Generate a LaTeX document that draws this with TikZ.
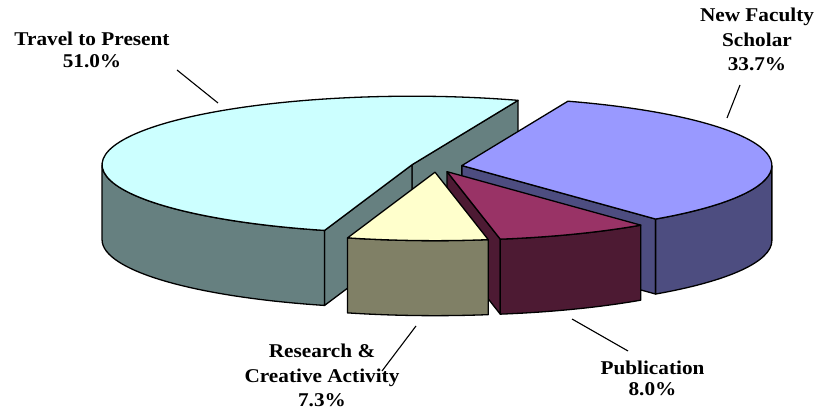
\documentclass[tikz,border=0pt]{standalone}
\usepackage{fontspec}
\newfontfamily\lblfont[FakeStretch=1.09]{Liberation Serif}
\definecolor{trtop}{RGB}{204,255,255}
\definecolor{trside}{RGB}{102,128,128}
\definecolor{nftop}{RGB}{153,153,255}
\definecolor{nfside}{RGB}{77,77,128}
\definecolor{pubtop}{RGB}{153,51,102}
\definecolor{pubside}{RGB}{77,26,51}
\definecolor{restop}{RGB}{255,255,204}
\definecolor{resside}{RGB}{128,128,102}
\begin{document}
\begin{tikzpicture}[x=1pt,y=1pt,line join=round,
  edge/.style={draw=black,line width=1.3pt},
  lbl/.style={font=\lblfont\bfseries\fontsize{19.5}{23}\selectfont,inner sep=0pt,anchor=base,text=black},
  leader/.style={draw=black,line width=1.1pt}]
\useasboundingbox[fill=white] (0,0) rectangle (817,411);
\def\R{310 and 68.5}
\def\ex{0.083}
% Travel to Present (70 -> 253.6)
\begin{scope}[shift={({436.5+\ex*310*cos(161.8)},{244.5+\ex*68.5*sin(161.8)})}]
  \path[edge,fill=trside] (0,0) -- (70:\R) -- ++(0,-75) -- (0,-75) -- cycle;
  \path[edge,fill=trside] (0,0) -- (253.6:\R) -- ++(0,-75) -- (0,-75) -- cycle;
  \path[edge,fill=trside] (180:\R) arc[start angle=180,end angle=253.6,x radius=310,y radius=68.5]
     -- ++(0,-75) arc[start angle=253.6,end angle=180,x radius=310,y radius=68.5] -- cycle;
  \path[edge,fill=trtop] (0,0) -- (70:\R) arc[start angle=70,end angle=253.6,x radius=310,y radius=68.5] -- cycle;
\end{scope}
% New Faculty Scholar (-51.32 -> 70)
\begin{scope}[shift={({436.5+\ex*310*cos(9.34)},{244.5+\ex*68.5*sin(9.34)})}]
  \path[edge,fill=nfside] (0,0) -- (-51.32:\R) -- ++(0,-75) -- (0,-75) -- cycle;
  \path[edge,fill=nfside] (-51.32:\R) arc[start angle=-51.32,end angle=0,x radius=310,y radius=68.5]
     -- ++(0,-75) arc[start angle=0,end angle=-51.32,x radius=310,y radius=68.5] -- cycle;
  \path[edge,fill=nftop] (0,0) -- (-51.32:\R) arc[start angle=-51.32,end angle=70,x radius=310,y radius=68.5] -- cycle;
\end{scope}
% Publication (-80.12 -> -51.32)
\begin{scope}[shift={({436.5+\ex*310*cos(-65.72)},{244.5+\ex*68.5*sin(-65.72)})}]
  \path[edge,fill=pubside] (0,0) -- (-80.12:\R) -- ++(0,-75) -- (0,-75) -- cycle;
  \path[edge,fill=pubside] (-80.12:\R) arc[start angle=-80.12,end angle=-51.32,x radius=310,y radius=68.5]
     -- ++(0,-75) arc[start angle=-51.32,end angle=-80.12,x radius=310,y radius=68.5] -- cycle;
  \path[edge,fill=pubtop] (0,0) -- (-80.12:\R) arc[start angle=-80.12,end angle=-51.32,x radius=310,y radius=68.5] -- cycle;
\end{scope}
% Research & Creative Activity (-106.4 -> -80.12)
\begin{scope}[shift={({436.5+\ex*310*cos(-93.26)},{244.5+\ex*68.5*sin(-93.26)})}]
  \path[edge,fill=resside] (-106.4:\R) arc[start angle=-106.4,end angle=-80.12,x radius=310,y radius=68.5]
     -- ++(0,-75) arc[start angle=-80.12,end angle=-106.4,x radius=310,y radius=68.5] -- cycle;
  \path[edge,fill=restop] (0,0) -- (-106.4:\R) arc[start angle=-106.4,end angle=-80.12,x radius=310,y radius=68.5] -- cycle;
\end{scope}
% labels
\node[lbl] (tr1) at (92,365) {Travel to Present};
\node[lbl] (tr2) at (92,343) {51.0\%};
\node[lbl] (nf1) at (757,389) {New Faculty};
\node[lbl] (nf2) at (757,364.5) {Scholar};
\node[lbl] (nf3) at (757,340.5) {33.7\%};
\node[lbl] (rs1) at (322,53.3) {Research \&};
\node[lbl] (rs2) at (322,28.5) {Creative Activity};
\node[lbl] (rs3) at (322,4.5) {7.3\%};
\node[lbl] (pb1) at (652.5,36) {Publication};
\node[lbl] (pb2) at (652.5,15) {8.0\%};
% leader lines
\coordinate (trA) at (177,341); \coordinate (trB) at (218,308);
\coordinate (nfA) at (740,326); \coordinate (nfB) at (727,293);
\coordinate (rsA) at (382,40);  \coordinate (rsB) at (416,85);
\coordinate (pbA) at (628,60);  \coordinate (pbB) at (572,92);
\draw[leader] (trA) -- (trB);
\draw[leader] (nfA) -- (nfB);
\draw[leader] (rsA) -- (rsB);
\draw[leader] (pbA) -- (pbB);
\end{tikzpicture}
\end{document}
